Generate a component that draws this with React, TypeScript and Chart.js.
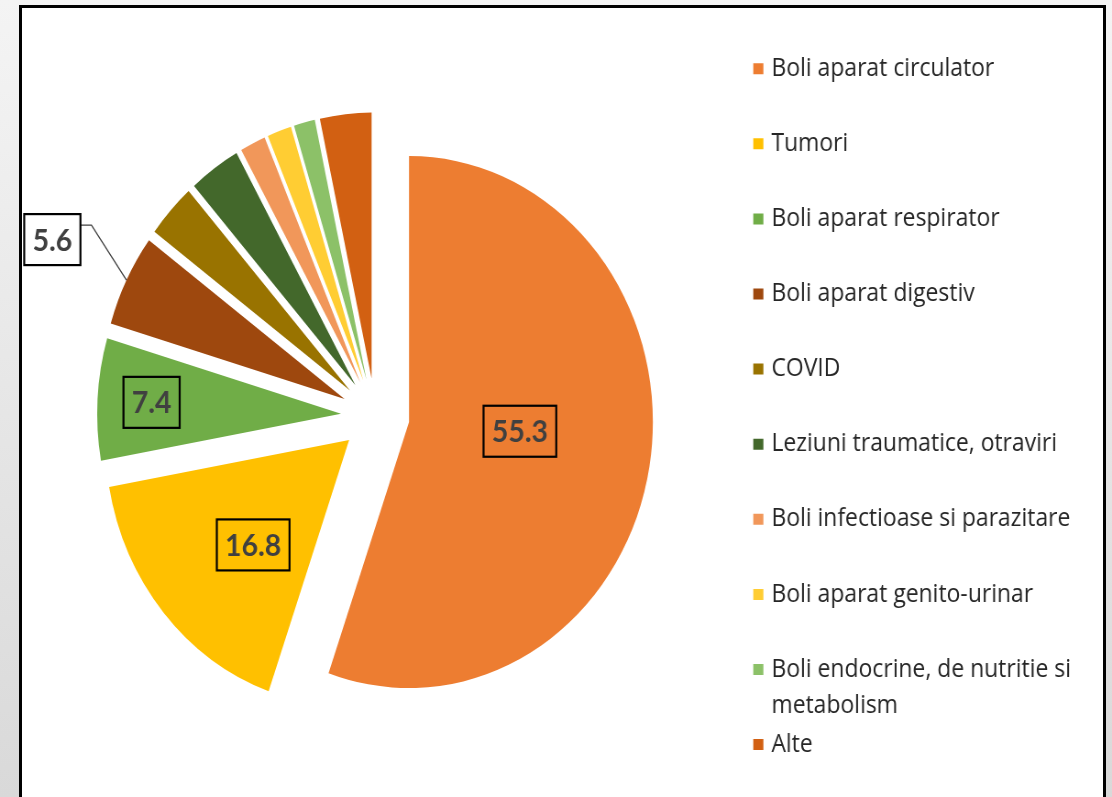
import React, { useEffect, useRef } from "react";
import { Chart, registerables } from "chart.js";

Chart.register(...registerables);

// ---------- data ----------
const categories = [
  "Boli aparat circulator",
  "Tumori",
  "Boli aparat respirator",
  "Boli aparat digestiv",
  "COVID",
  "Leziuni traumatice, otraviri",
  "Boli infectioase si parazitare",
  "Boli aparat genito-urinar",
  "Boli endocrine, de nutritie si metabolism",
  "Alte",
];
const values = [55.3, 16.8, 7.4, 5.6, 3.3, 3.4, 1.7, 1.6, 1.4, 3.4];
const colors = [
  "#ED7D31",
  "#FFC000",
  "#70AD47",
  "#9E480E",
  "#997300",
  "#43682B",
  "#F1975A",
  "#FFCD33",
  "#8CC168",
  "#D26012",
];
const labelledSlices = [0, 1, 2, 3];

// ---------- layout / style ----------
const CANVAS_W = 1213; // internal width, squeezed to 1112 css px
const CANVAS_H = 900;
const EXPLODE = 37.4;
const RADIUS = 266;
const LEGEND_FONT_SIZE = 25;
const LEGEND_FAMILY = "'Open Sans', Lato, sans-serif";
const LEGEND_PAD = 50.1;
const LEGEND_BOX_W = 3.6;
const LEGEND_LINE_H = 36;
const LEGEND_WRAP_W = 365;
const LEGEND_LEFT = 775.3; // internal x where the legend box starts
const PAD_LEFT = 43.3;
const PAD_TOP = 6.1;
const PAD_BOTTOM = 74.5;
const LABEL_FONT = "bold 31px Lato, 'Open Sans', sans-serif";
const labelPlacement: Record<number, { f: number; turn: number; outside?: boolean }> = {
  0: { f: 0.456, turn: -5.3 },
  1: { f: 0.557, turn: -4.6 },
  2: { f: 0.778, turn: 0 },
  3: { f: 1.34, turn: 0, outside: true },
};

function wrapWords(ctx: CanvasRenderingContext2D, text: string, maxW: number): string[] {
  const words = text.split(" ");
  const lines: string[] = [];
  let cur = "";
  for (const w of words) {
    const t = cur ? cur + " " + w : w;
    if (cur && ctx.measureText(t).width > maxW) {
      lines.push(cur);
      cur = w;
    } else {
      cur = t;
    }
  }
  lines.push(cur);
  return lines;
}

export default function App() {
  const ref = useRef<HTMLCanvasElement>(null);

  useEffect(() => {
    const canvas = ref.current;
    if (!canvas) return;

    // pre-wrap legend labels and compute the legend's natural width
    const mctx = document.createElement("canvas").getContext("2d") as CanvasRenderingContext2D;
    mctx.font = `${LEGEND_FONT_SIZE}px ${LEGEND_FAMILY}`;
    const wrapped: string[][] = categories.map((c) => wrapWords(mctx, c, LEGEND_WRAP_W));
    const maxText = Math.max(...wrapped.map((l) => mctx.measureText(l[0]).width));
    const legendNatural =
      LEGEND_PAD + Math.min(LEGEND_BOX_W, LEGEND_FONT_SIZE) + LEGEND_FONT_SIZE / 2 + maxText + 10;
    const padRight = Math.max(0, CANVAS_W - LEGEND_LEFT - legendNatural);

    const explodePlugin = {
      id: "explodeSlices",
      afterDatasetUpdate(_chart: any, args: any) {
        args.meta.data.forEach((arc: any) => {
          const mid = (arc.startAngle + arc.endAngle) / 2;
          arc.x += Math.cos(mid) * EXPLODE;
          arc.y += Math.sin(mid) * EXPLODE;
        });
      },
    };

    const legendWrapPlugin = {
      id: "legendWrap",
      afterDraw(chart: any) {
        const legend = chart.legend;
        if (!legend || !legend.legendHitBoxes) return;
        const ctx: CanvasRenderingContext2D = chart.ctx;
        ctx.save();
        ctx.font = `${LEGEND_FONT_SIZE}px ${LEGEND_FAMILY}`;
        ctx.fillStyle = "#262626";
        ctx.textAlign = "left";
        ctx.textBaseline = "middle";
        legend.legendItems.forEach((item: any, i: number) => {
          const lines = wrapped[item.index] || [];
          const hb = legend.legendHitBoxes[i];
          if (!hb) return;
          const x = hb.left + Math.min(LEGEND_BOX_W, LEGEND_FONT_SIZE) + LEGEND_FONT_SIZE / 2;
          const y = hb.top + LEGEND_FONT_SIZE / 2;
          lines.slice(1).forEach((line, k) => {
            ctx.fillText(line, x, y + LEGEND_LINE_H * (k + 1));
          });
        });
        ctx.restore();
      },
    };

    const labelPlugin = {
      id: "sliceLabels",
      afterDatasetsDraw(chart: any) {
        const ctx: CanvasRenderingContext2D = chart.ctx;
        const meta = chart.getDatasetMeta(0);
        ctx.save();
        ctx.font = LABEL_FONT;
        ctx.textAlign = "center";
        ctx.textBaseline = "middle";
        labelledSlices.forEach((idx) => {
          const arc = meta.data[idx];
          const place = labelPlacement[idx];
          if (!arc || !place) return;
          const bis = (arc.startAngle + arc.endAngle) / 2;
          const ang = bis + (place.turn * Math.PI) / 180;
          const rr = arc.outerRadius * place.f;
          const cx = arc.x + Math.cos(ang) * rr;
          const cy = arc.y + Math.sin(ang) * rr;
          const text = values[idx].toFixed(1);
          const tw = ctx.measureText(text).width;
          const w = tw + 18;
          const h = 51;
          if (place.outside) {
            const px = arc.x + Math.cos(bis) * arc.outerRadius;
            const py = arc.y + Math.sin(bis) * arc.outerRadius;
            const right = cx + w / 2;
            ctx.beginPath();
            ctx.moveTo(px, py);
            ctx.lineTo(right + 12, cy - 14.5);
            ctx.lineTo(right, cy - 14.5);
            ctx.strokeStyle = "#404040";
            ctx.lineWidth = 1.3;
            ctx.stroke();
            ctx.fillStyle = "#ffffff";
            ctx.fillRect(cx - w / 2, cy - h / 2, w, h);
          }
          ctx.strokeStyle = "#000000";
          ctx.lineWidth = 2.2;
          ctx.strokeRect(cx - w / 2, cy - h / 2, w, h);
          ctx.fillStyle = "#404040";
          ctx.fillText(text, cx, cy + 1);
        });
        ctx.restore();
      },
    };

    const chart = new Chart(canvas, {
      type: "pie",
      data: {
        labels: categories,
        datasets: [
          {
            data: values,
            backgroundColor: colors,
            borderWidth: 0,
            radius: RADIUS,
          } as any,
        ],
      },
      options: {
        responsive: false,
        maintainAspectRatio: false,
        animation: false,
        devicePixelRatio: 1,
        events: [],
        layout: {
          padding: { left: PAD_LEFT, right: padRight, top: PAD_TOP, bottom: PAD_BOTTOM },
        },
        plugins: {
          tooltip: { enabled: false },
          title: { display: false },
          legend: {
            display: true,
            position: "right",
            align: "start",
            labels: {
              usePointStyle: true,
              pointStyle: "rect",
              boxWidth: LEGEND_BOX_W,
              boxHeight: 11,
              padding: LEGEND_PAD,
              color: "#262626",
              font: { family: LEGEND_FAMILY, size: LEGEND_FONT_SIZE },
              generateLabels(ch: any) {
                const base = (Chart as any).overrides.doughnut.plugins.legend.labels.generateLabels(ch);
                base.forEach((item: any) => {
                  item.text = wrapped[item.index][0];
                  item.lineWidth = 0;
                });
                return base;
              },
            },
          } as any,
        },
      },
      plugins: [explodePlugin, labelPlugin, legendWrapPlugin],
    });

    return () => chart.destroy();
  }, []);

  return (
    <div
      style={{
        position: "fixed",
        left: 0,
        top: 0,
        width: 1112,
        height: 797,
        overflow: "hidden",
        background: "linear-gradient(180deg, #f4f4f4 0%, #d9d9d9 100%)",
      }}
    >
      <div
        style={{
          position: "absolute",
          left: 19,
          top: 5,
          width: 1087,
          height: 900,
          boxSizing: "border-box",
          border: "3px solid #000",
          background: "#ffffff",
        }}
      />
      <canvas
        ref={ref}
        width={CANVAS_W}
        height={CANVAS_H}
        style={{ position: "absolute", left: 0, top: 0, width: 1112, height: CANVAS_H }}
      />
    </div>
  );
}
